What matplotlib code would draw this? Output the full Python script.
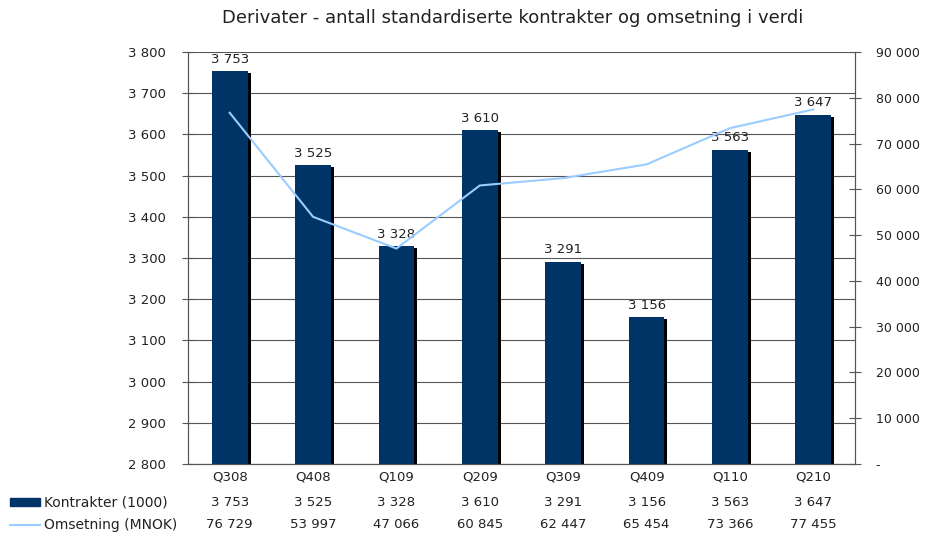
import numpy as np
import matplotlib.pyplot as plt
import matplotlib.transforms as mtransforms
from matplotlib.lines import Line2D
from matplotlib.patches import Rectangle

quarters = ["Q308", "Q408", "Q109", "Q209", "Q309", "Q409", "Q110", "Q210"]
kontrakter = [3753, 3525, 3328, 3610, 3291, 3156, 3563, 3647]
omsetning = [76729, 53997, 47066, 60845, 62447, 65454, 73366, 77455]


def fmt(v):
    return f"{v:,.0f}".replace(",", " ")


bar_color = "#003366"
line_color = "#99ccff"
grid_color = "#555555"
text_color = "#222222"
fs = 9.5

plt.rcParams['font.family'] = ['DejaVu Sans']
plt.rcParams['text.color'] = text_color
plt.rcParams['xtick.color'] = text_color
plt.rcParams['ytick.color'] = text_color

fig = plt.figure(figsize=(9.26, 5.33), dpi=100)
ax = fig.add_axes([188 / 926, 1 - 464 / 533, (855 - 188) / 926, (464 - 52) / 533])
ax2 = ax.twinx()

x = np.arange(len(quarters))
w = 0.43

# shadow behind bars
shadow = mtransforms.offset_copy(ax.transData, fig=fig, x=3, y=-2, units='dots')
ax.bar(x, np.array(kontrakter) - 2800, bottom=2800, width=w, color="black", transform=shadow, zorder=2)
ax.bar(x, np.array(kontrakter) - 2800, bottom=2800, width=w, color=bar_color, zorder=3)

for xi, v in zip(x, kontrakter):
    ax.text(xi, v + 14, fmt(v), ha="center", va="bottom", fontsize=fs, zorder=5)

ax.set_ylim(2800, 3800)
ax.set_xlim(-0.5, len(quarters) - 0.5)
ax.set_yticks(np.arange(2800, 3801, 100))
ax.set_yticklabels([fmt(v) for v in np.arange(2800, 3801, 100)], fontsize=fs)
ax.set_xticks(x)
ax.set_xticklabels(quarters, fontsize=fs)
ax.tick_params(axis="x", length=0, pad=5)
ax.tick_params(axis="y", direction="inout", length=8, color=grid_color, pad=12)
ax.yaxis.grid(True, color=grid_color, linewidth=0.8)
ax.set_axisbelow(True)

ax2.plot(x, omsetning, color=line_color, linewidth=1.5, zorder=6)
ax2.set_ylim(0, 90000)
ax2.set_yticks(np.arange(0, 90001, 10000))
ax2.set_yticklabels(["-"] + [fmt(v) for v in np.arange(10000, 90001, 10000)], fontsize=9)
ax2.tick_params(axis="y", direction="inout", length=8, color=grid_color, pad=11)

for a in (ax, ax2):
    a.spines["top"].set_visible(False)
    a.spines["left"].set_color(grid_color)
    a.spines["right"].set_color(grid_color)
    a.spines["bottom"].set_color(grid_color)

# line drawn on top of bars
ax.set_zorder(1)
ax2.set_zorder(2)
ax2.patch.set_visible(False)

fig.suptitle("Derivater - antall standardiserte kontrakter og omsetning i verdi",
             x=513 / 926, y=1 - 18 / 533, fontsize=13, color=text_color, va="center")

# data table below chart
blend = mtransforms.blended_transform_factory(ax.transData, fig.transFigure)
row_y = [1 - 502 / 533, 1 - 525 / 533]
for xi, k, o in zip(x, kontrakter, omsetning):
    fig.text(xi, row_y[0], fmt(k), transform=blend, ha="center", va="center", fontsize=fs)
    fig.text(xi, row_y[1], fmt(o), transform=blend, ha="center", va="center", fontsize=fs)

fig.patches.append(Rectangle((10 / 926, row_y[0] - 4 / 533), 30 / 926, 8 / 533,
                             transform=fig.transFigure, color=bar_color))
fig.lines.append(Line2D([10 / 926, 40 / 926], [row_y[1], row_y[1]],
                        transform=fig.transFigure, color=line_color, linewidth=1.5))
fig.text(44 / 926, row_y[0], "Kontrakter (1000)", ha="left", va="center", fontsize=10)
fig.text(44 / 926, row_y[1], "Omsetning (MNOK)", ha="left", va="center", fontsize=10)

fig.savefig("out.png", dpi=100)
